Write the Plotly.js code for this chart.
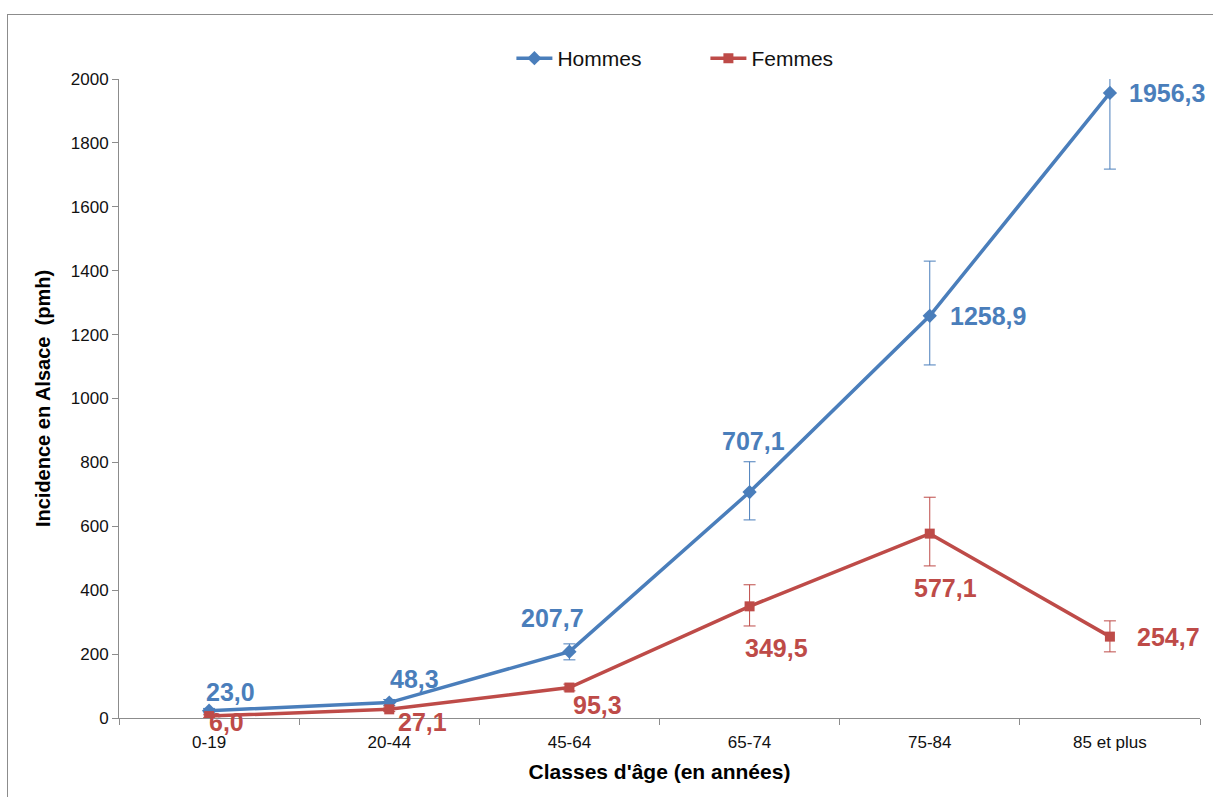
<!DOCTYPE html>
<html>
<head>
<meta charset="utf-8">
<script src="https://cdn.plot.ly/plotly-3.0.1.min.js"></script>
<style>
  html, body { margin: 0; padding: 0; background: #ffffff; overflow: hidden; }
  #frame { position: absolute; left: 7px; top: 14px; width: 1220px; height: 800px;
           border: 1px solid #8c8c8c; box-sizing: border-box; }
  #chart { position: absolute; left: 0; top: 0; width: 1213px; height: 797px; }
</style>
</head>
<body>
<div id="frame"></div>
<div id="chart"></div>
<script>
// Age classes (years)
const ageClasses = ['0-19', '20-44', '45-64', '65-74', '75-84', '85 et plus'];

// Incidence per million inhabitants
const hommes = [23.0, 48.3, 207.7, 707.1, 1258.9, 1956.3];
const femmes = [6.0, 27.1, 95.3, 349.5, 577.1, 254.7];

// Confidence interval bounds
const hommesUpper = [30, 58, 232, 802, 1430, 2200];
const hommesLower = [16, 39, 182, 620, 1105, 1718];
const femmesUpper = [10, 34, 106, 417, 691, 304];
const femmesLower = [2, 20, 85, 288, 476, 207];

const blue = '#4a7ebb';
const red = '#be4b48';
const fontFam = 'Arial, Liberation Sans, sans-serif';

const fmt = v => v.toFixed(1).replace('.', ',');

// Label offsets (px) relative to each marker
const hommesShift = [[21, 19], [25, 24], [-17, 34], [4, 51], [58, 0], [57, 0]];
const femmesShift = [[17, -6], [33, -13], [28, -17], [27, -42], [16, -54], [59, 0]];

const traces = [
  {
    name: 'Hommes', x: ageClasses, y: hommes, type: 'scatter', mode: 'lines+markers',
    line: { color: blue, width: 3.5 },
    marker: { symbol: 'diamond', size: 11, color: blue },
    error_y: {
      type: 'data', symmetric: false,
      array: hommesUpper.map((u, i) => u - hommes[i]),
      arrayminus: hommes.map((v, i) => v - hommesLower[i]),
      color: blue, thickness: 1, width: 6
    }
  },
  {
    name: 'Femmes', x: ageClasses, y: femmes, type: 'scatter', mode: 'lines+markers',
    line: { color: red, width: 3.5 },
    marker: { symbol: 'square', size: 10, color: red },
    error_y: {
      type: 'data', symmetric: false,
      array: femmesUpper.map((u, i) => u - femmes[i]),
      arrayminus: femmes.map((v, i) => v - femmesLower[i]),
      color: red, thickness: 1, width: 6
    }
  }
];

const annotations = [];
ageClasses.forEach((c, i) => {
  annotations.push({
    x: c, y: hommes[i], text: fmt(hommes[i]), showarrow: false,
    xshift: hommesShift[i][0], yshift: hommesShift[i][1],
    font: { family: fontFam, size: 25, color: blue, weight: 'bold' }
  });
  annotations.push({
    x: c, y: femmes[i], text: fmt(femmes[i]), showarrow: false,
    xshift: femmesShift[i][0], yshift: femmesShift[i][1],
    font: { family: fontFam, size: 25, color: red, weight: 'bold' }
  });
});

const layout = {
  width: 1213, height: 797,
  margin: { l: 119, r: 13, t: 79, b: 79 },
  paper_bgcolor: 'rgba(0,0,0,0)', plot_bgcolor: 'rgba(0,0,0,0)',
  font: { family: fontFam, color: '#000000' },
  showlegend: true,
  legend: {
    orientation: 'h', x: 0.363, xanchor: 'left', y: 1.0, yanchor: 'bottom',
    font: { size: 21, color: '#111111' }, traceorder: 'normal',
    itemwidth: 36, entrywidth: 143
  },
  xaxis: {
    type: 'category', range: [-0.5, 5.5], autorange: false,
    showline: true, linecolor: '#8c8c8c', linewidth: 1,
    ticks: 'outside', tickson: 'boundaries', ticklen: 6, tickcolor: '#8c8c8c',
    showgrid: false, zeroline: false,
    ticklabelstandoff: 9,
    tickfont: { size: 17, color: '#111111' },
    title: { text: "Classes d'âge (en années)", font: { size: 21, weight: 'bold' }, standoff: 12 }
  },
  yaxis: {
    range: [0, 2000], autorange: false, dtick: 200, tickformat: 'd',
    showline: true, linecolor: '#8c8c8c', linewidth: 1,
    ticks: 'outside', ticklen: 6, tickcolor: '#8c8c8c',
    showgrid: false, zeroline: false,
    tickfont: { size: 17, color: '#111111' },
    title: { text: 'Incidence en Alsace  (pmh)', font: { size: 20, weight: 'bold' }, standoff: 14 }
  },
  annotations: annotations
};

Plotly.newPlot('chart', traces, layout, { displayModeBar: false, staticPlot: true });
</script>
</body>
</html>
